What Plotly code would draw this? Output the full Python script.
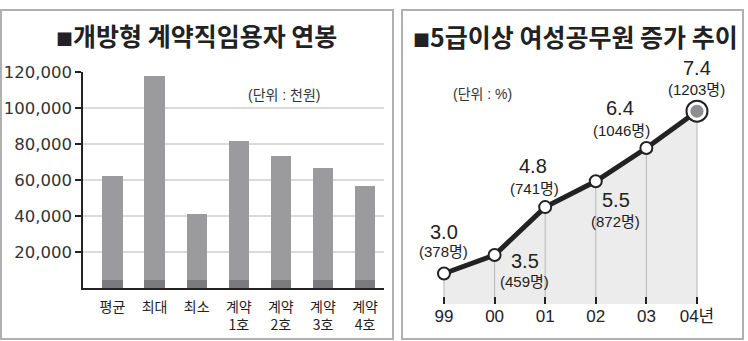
import plotly.graph_objects as go

# ---- data (left chart) ----
left_categories = ['평균', '최대', '최소', '계약<br>1호', '계약<br>2호', '계약<br>3호', '계약<br>4호']
salary = [62000, 118000, 41000, 81800, 73100, 66700, 56900]
left_ticks = [20000, 40000, 60000, 80000, 100000, 120000]
left_tick_text = ['20,000', '40,000', '60,000', '80,000', '100,000', '120,000']
base_band = 4300  # darker strip at the foot of each bar

# ---- data (right chart) ----
years = ['99', '00', '01', '02', '03', '04년']
pct = [3.0, 3.5, 4.8, 5.5, 6.4, 7.4]
counts = [378, 459, 741, 872, 1046, 1203]

W, H = 748, 341
def px(x):
    return x / W
def py(y):
    return 1 - y / H

CJK = 'Noto Sans CJK KR'
NARROW = 'Liberation Sans Narrow, Arial Narrow, Liberation Sans, Noto Sans CJK KR'
NUM = 'Liberation Sans, Arial, Noto Sans CJK KR'

fig = go.Figure()

# left bars: dark base strip + lighter body
fig.add_trace(go.Bar(x=left_categories, y=[min(base_band, v) for v in salary],
                     marker=dict(color='#7b7b7d', line=dict(width=0)),
                     width=0.48, xaxis='x', yaxis='y', showlegend=False, hoverinfo='skip'))
fig.add_trace(go.Bar(x=left_categories, y=[v - base_band for v in salary],
                     marker=dict(color='#9b9b9d', line=dict(width=0)),
                     width=0.48, xaxis='x', yaxis='y', showlegend=False))

# right chart
y_lo, y_hi = 2.174, 9.113
fig.add_trace(go.Scatter(x=years, y=pct, mode='lines', line=dict(width=0),
                         fill='tozeroy', fillcolor='#ececec',
                         xaxis='x2', yaxis='y2', showlegend=False, hoverinfo='skip'))
fig.add_trace(go.Scatter(x=years, y=pct, mode='markers', marker=dict(size=1, opacity=0),
                         error_y=dict(type='data', symmetric=False, array=[0] * len(pct),
                                      arrayminus=[v - y_lo for v in pct],
                                      color='#b8b8b8', thickness=1, width=0),
                         xaxis='x2', yaxis='y2', showlegend=False, hoverinfo='skip'))
fig.add_trace(go.Scatter(x=years, y=pct, mode='lines', line=dict(color='#222222', width=5),
                         xaxis='x2', yaxis='y2', showlegend=False, hoverinfo='skip'))
fig.add_trace(go.Scatter(x=years, y=pct, mode='markers',
                         marker=dict(size=[12] * (len(pct) - 1) + [21], color='#ffffff',
                                     opacity=1, line=dict(color='#222222', width=2)),
                         xaxis='x2', yaxis='y2', showlegend=False))
fig.add_trace(go.Scatter(x=[years[-1]], y=[pct[-1]], mode='markers',
                         marker=dict(size=13, color='#8e8e90', line=dict(width=0)),
                         xaxis='x2', yaxis='y2', showlegend=False))

annotations = []
# value labels on the line chart (offsets in px); x given as category index
num_off = [(0, 42), (30, -6), (-12, 41), (20, -19), (-26, 40), (0, 43)]
cnt_off = [(0, 22), (30, -26), (-11, 19), (20, -40), (-25, 18), (0, 22)]
for i, (v, c) in enumerate(zip(pct, counts)):
    annotations.append(dict(x=i, y=v, xref='x2', yref='y2', text=f'{v:.1f}',
                            showarrow=False, xanchor='center', yanchor='middle',
                            xshift=num_off[i][0], yshift=num_off[i][1],
                            font=dict(family=NUM, size=20, color='#222')))
    annotations.append(dict(x=i, y=v, xref='x2', yref='y2', text=f'({c}명)',
                            showarrow=False, xanchor='center', yanchor='middle',
                            xshift=cnt_off[i][0], yshift=cnt_off[i][1],
                            font=dict(family=NARROW, size=15, color='#222')))

# titles and unit notes
annotations += [
    dict(x=px(196), y=py(27), xref='paper', yref='paper', showarrow=False,
         xanchor='center', yanchor='middle',
         text="<span style='font-size:17px'>■</span>개방형 계약직임용자 연봉",
         font=dict(family=CJK, size=25, color='#222', weight='bold')),
    dict(x=px(575), y=py(28), xref='paper', yref='paper', showarrow=False,
         xanchor='center', yanchor='middle',
         text="<span style='font-size:17px'>■</span>5급이상 여성공무원 증가 추이",
         font=dict(family=CJK, size=25, color='#222', weight='bold')),
    dict(x=px(284), y=py(88), xref='paper', yref='paper', showarrow=False,
         xanchor='center', yanchor='middle',
         text='(단위 : 천원)', font=dict(family=NARROW, size=14, color='#333')),
    dict(x=px(482), y=py(87), xref='paper', yref='paper', showarrow=False,
         xanchor='center', yanchor='middle',
         text='(단위 : %)', font=dict(family=NARROW, size=14, color='#333')),
]

shapes = [
    dict(type='rect', xref='paper', yref='paper', x0=px(1), x1=px(393), y0=py(339), y1=py(1),
         line=dict(color='#b0b0b0', width=2)),
    dict(type='rect', xref='paper', yref='paper', x0=px(402), x1=px(743), y0=py(339), y1=py(1),
         line=dict(color='#b0b0b0', width=2)),
]

fig.update_layout(
    width=W, height=H, margin=dict(l=0, r=0, t=0, b=0),
    paper_bgcolor='white', plot_bgcolor='white',
    barmode='stack', bargap=0,
    showlegend=False,
    annotations=annotations, shapes=shapes,
    xaxis=dict(domain=[px(83), px(384)], range=[-0.70, 6.45], type='category',
               showline=True, linecolor='#222', linewidth=1.5, ticks='',
               showgrid=False, zeroline=False, ticklabelstandoff=5,
               tickfont=dict(family=CJK, size=14, color='#222'), anchor='y'),
    yaxis=dict(domain=[py(287), py(65)], range=[0, 120000],
               tickvals=left_ticks, ticktext=left_tick_text,
               showline=True, linecolor='#222', linewidth=1.5,
               ticks='outside', ticklen=6, tickwidth=1.5, tickcolor='#222',
               showgrid=True, gridcolor='#dadada', gridwidth=1.5, zeroline=False,
               tickfont=dict(family='DejaVu Sans', size=16.5, color='#333'), anchor='x'),
    xaxis2=dict(domain=[px(420), px(720)], range=[-0.474, 5.455], type='category',
                showline=False, showgrid=False, zeroline=False,
                ticks='inside', ticklen=7, tickwidth=1.5, tickcolor='#222',
                tickfont=dict(family=NARROW, size=17, color='#222'), anchor='y2'),
    yaxis2=dict(domain=[py(303), py(40)], range=[y_lo, y_hi], visible=False, anchor='x2'),
)

fig.write_html('out.html')
